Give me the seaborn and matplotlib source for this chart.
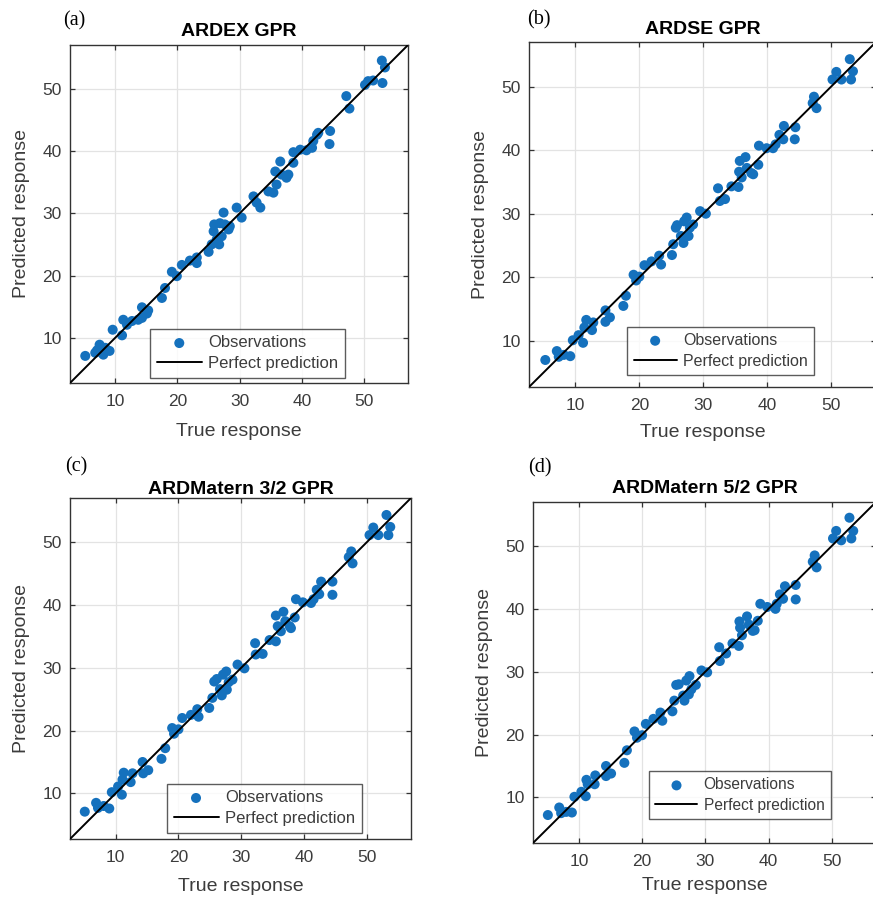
import numpy as np
import pandas as pd
import matplotlib
matplotlib.use("Agg")
import matplotlib.pyplot as plt
import seaborn as sns

# ---------------- data ----------------
titles = ["ARDEX GPR", "ARDSE GPR", "ARDMatern 3/2 GPR", "ARDMatern 5/2 GPR"]
panel_labels = ["(a)", "(b)", "(c)", "(d)"]
ticks = [10, 20, 30, 40, 50]
tick_labels = ["10", "20", "30", "40", "50"]

true_a = [5.2, 7.1, 7.5, 7.9, 8.4, 9.1, 8.1, 6.8, 9.6, 11.1, 11.3, 11.9, 12.7, 14.3, 14.3, 15.1,
          15.3, 13.7, 17.5, 18.0, 19.1, 19.9, 20.7, 22.0, 23.1, 23.1, 25.0, 25.5, 25.8, 25.9,
          26.3, 26.7, 27.1, 26.8, 27.4, 27.6, 28.2, 28.4, 29.5, 30.3, 32.2, 33.3, 32.7, 34.6,
          35.4, 35.7, 35.9, 36.5, 36.7, 37.5, 37.8, 38.6, 38.6, 39.7, 40.7, 41.6, 41.8, 42.4,
          42.6, 44.5, 44.4, 47.1, 47.6, 50.1, 50.6, 51.4, 52.9, 52.8, 53.3]
pred_a = [7.1, 8.0, 8.9, 7.6, 8.4, 7.9, 7.3, 7.6, 11.3, 10.4, 12.9, 12.1, 12.7, 14.9, 13.2, 13.9,
          14.4, 12.9, 16.4, 18.0, 20.6, 19.9, 21.7, 22.4, 22.9, 22.0, 23.8, 25.0, 27.1, 28.2,
          25.8, 25.0, 26.3, 28.4, 30.1, 28.2, 27.4, 27.9, 30.9, 29.3, 32.7, 30.9, 31.7, 33.5,
          33.3, 36.7, 34.6, 38.3, 36.2, 35.7, 36.2, 38.1, 39.8, 40.2, 40.1, 40.5, 41.6, 42.6,
          42.9, 43.2, 41.1, 48.8, 46.8, 50.6, 51.2, 51.3, 50.9, 54.5, 53.4]

true_b = [5.3, 7.1, 7.4, 8.2, 9.2, 9.6, 10.5, 11.2, 11.4, 11.7, 12.6, 12.8, 14.7, 14.7, 15.4,
          17.5, 17.9, 19.1, 19.5, 20.0, 20.8, 21.9, 23.1, 23.4, 25.1, 25.3, 25.7, 25.9, 26.5,
          26.9, 27.0, 27.4, 27.7, 27.9, 28.4, 29.5, 30.4, 32.3, 32.6, 33.4, 34.4, 35.5, 35.7,
          35.6, 36.0, 36.6, 36.8, 37.5, 37.8, 38.6, 38.7, 39.9, 40.9, 41.3, 41.9, 42.5, 42.6,
          44.4, 44.3, 47.1, 47.3, 47.7, 50.2, 50.8, 51.6, 52.9, 53.1, 53.4]
pred_b = [7.0, 8.4, 7.5, 7.8, 7.6, 10.1, 10.9, 9.7, 12.1, 13.3, 11.7, 12.9, 14.8, 13.0, 13.7,
          15.5, 17.1, 20.4, 19.5, 20.1, 21.9, 22.5, 23.4, 22.0, 23.5, 25.2, 27.8, 28.2, 26.5,
          25.4, 28.8, 29.4, 26.5, 27.8, 28.3, 30.4, 30.0, 34.0, 32.0, 32.3, 34.3, 34.2, 38.3,
          36.6, 35.7, 38.9, 37.2, 36.4, 36.2, 37.7, 40.7, 40.3, 40.3, 40.9, 42.4, 41.7, 43.8,
          43.6, 41.7, 47.4, 48.4, 46.6, 51.1, 52.3, 51.1, 54.3, 51.1, 52.4]

true_c = [5.1, 6.9, 7.2, 8.1, 9.0, 9.4, 10.4, 11.0, 11.1, 11.3, 12.4, 12.7, 14.3, 14.4, 15.2,
          17.3, 17.9, 19.0, 19.3, 20.0, 20.6, 22.0, 23.0, 23.2, 24.9, 25.4, 25.7, 26.1, 26.6,
          26.9, 27.1, 27.6, 27.7, 28.0, 28.6, 29.4, 30.5, 32.2, 32.3, 33.4, 34.5, 35.5, 35.5,
          35.8, 36.3, 36.7, 37.0, 37.7, 37.9, 38.5, 38.7, 39.8, 41.1, 41.5, 42.0, 42.4, 42.7,
          44.5, 44.5, 47.1, 47.5, 47.7, 50.4, 51.0, 51.8, 53.1, 53.4, 53.7]
pred_c = [7.1, 8.5, 7.7, 8.0, 7.6, 10.2, 11.1, 9.8, 12.2, 13.3, 11.8, 13.2, 15.0, 13.2, 13.7,
          15.5, 17.2, 20.4, 19.5, 20.2, 22.0, 22.5, 23.4, 22.2, 23.6, 25.2, 27.8, 28.2, 26.6,
          25.6, 28.9, 29.4, 26.5, 27.7, 28.1, 30.5, 29.9, 33.9, 32.1, 32.2, 34.4, 34.2, 38.3,
          36.6, 35.8, 38.9, 37.4, 36.6, 36.3, 38.0, 40.9, 40.4, 40.3, 40.9, 42.4, 41.7, 43.7,
          43.7, 41.6, 47.6, 48.5, 46.6, 51.1, 52.3, 51.1, 54.3, 51.1, 52.4]

true_d = [5.1, 6.9, 7.2, 8.0, 8.9, 9.3, 10.4, 11.1, 11.2, 11.4, 12.5, 12.6, 14.3, 14.3, 15.1,
          17.2, 17.6, 18.8, 19.2, 20.0, 20.6, 21.8, 22.9, 23.2, 24.8, 25.1, 25.4, 25.8, 26.5,
          26.7, 27.0, 27.5, 27.4, 27.8, 28.5, 29.4, 30.3, 32.2, 32.3, 33.3, 34.3, 35.3, 35.4,
          35.5, 35.8, 36.6, 36.9, 37.5, 37.8, 38.3, 38.7, 39.8, 41.1, 41.3, 41.8, 42.3, 42.6,
          44.3, 44.3, 47.0, 47.3, 47.6, 50.2, 50.7, 51.5, 52.8, 53.1, 53.4]
pred_d = [7.2, 8.4, 7.5, 7.7, 7.6, 10.1, 10.9, 10.2, 12.8, 12.1, 12.1, 13.5, 15.0, 13.4, 13.8,
          15.5, 17.5, 20.5, 19.5, 19.9, 21.7, 22.5, 23.5, 22.2, 23.7, 25.4, 27.9, 28.0, 26.2,
          25.4, 28.6, 29.3, 26.4, 27.2, 27.9, 30.2, 29.9, 33.9, 31.7, 32.9, 34.5, 34.1, 38.0,
          37.0, 35.8, 38.8, 37.5, 36.5, 36.6, 38.1, 40.8, 40.3, 40.0, 40.8, 42.3, 41.6, 43.6,
          43.8, 41.5, 47.5, 48.5, 46.6, 51.2, 52.4, 50.9, 54.5, 51.2, 52.4]

axis_limits = [2.75, 57.0]

# ---------------- style ----------------
sns.set_theme(style="white")
plt.rcParams["font.family"] = ["Liberation Sans", "DejaVu Sans"]

W, H = 873, 897
fig = plt.figure(figsize=(W / 100, H / 100), dpi=100)

# axes boxes in pixels: left, top, right, bottom
boxes = [(70, 45, 408, 383), (529, 42, 876, 387), (70, 498, 411, 839), (533, 502, 876, 843)]
legend_anchor = [(0.237, 0.015), (0.283, 0.035), (0.284, 0.018), (0.339, 0.07)]
legend_fs = [12, 11.5, 12, 11.2]
title_pad = [6.5, 5.5, 3.0, 6.5]
xlabel_pad = [10, 8, 9, 6]
label_pos = [(63, 21), (527, 20), (65, 467), (528, 468)]

series = [(true_a, pred_a), (true_b, pred_b), (true_c, pred_c), (true_d, pred_d)]
blue = "#1571bd"
gray_txt = "#3c3c3c"

for i, (box, (tx, py)) in enumerate(zip(boxes, series)):
    l, t, r, b = box
    ax = fig.add_axes([l / W, 1 - b / H, (r - l) / W, (b - t) / H])
    df = pd.DataFrame({"True response": tx, "Predicted response": py})
    sns.scatterplot(data=df, x="True response", y="Predicted response", ax=ax,
                    color=blue, s=52, edgecolor="none", linewidth=0,
                    label="Observations", zorder=3)
    ax.plot(axis_limits, axis_limits, color="black", lw=1.4, label="Perfect prediction", zorder=4)
    ax.set_xlim(axis_limits)
    ax.set_ylim(axis_limits)
    ax.set_xticks(ticks)
    ax.set_xticklabels(tick_labels)
    ax.set_yticks(ticks)
    ax.set_yticklabels(tick_labels)
    ax.grid(True, color="#e3e3e3", lw=0.9)
    ax.set_axisbelow(True)
    for sp in ax.spines.values():
        sp.set_color("#333333")
        sp.set_linewidth(1.0)
        sp.set_visible(True)
    ax.tick_params(axis="both", direction="in", length=3.5, width=0.9, color="#333333",
                   labelsize=12.5, labelcolor=gray_txt, top=True, right=True,
                   bottom=True, left=True)
    ax.tick_params(axis="x", pad=8)
    ax.tick_params(axis="y", pad=6)
    ax.set_xlabel("True response", fontsize=14, color=gray_txt, labelpad=xlabel_pad[i])
    ax.set_ylabel("Predicted response", fontsize=14, color=gray_txt, labelpad=9)
    ax.set_title(titles[i], fontsize=14, fontweight="bold", color="black", pad=title_pad[i])
    leg = ax.legend(loc="lower left", bbox_to_anchor=legend_anchor[i], borderaxespad=0,
                    fontsize=legend_fs[i], frameon=True, fancybox=False, handlelength=2.7,
                    handletextpad=0.4, borderpad=0.4, labelspacing=0.35, markerscale=1.0)
    leg.get_frame().set_edgecolor("#333333")
    leg.get_frame().set_linewidth(1.0)
    for txt in leg.get_texts():
        txt.set_color(gray_txt)
    lx, ly = label_pos[i]
    fig.text(lx / W, 1 - ly / H, panel_labels[i], fontsize=14.5, family="Liberation Serif",
             color="black", ha="left", va="center")

fig.savefig("out.png", dpi=100)
